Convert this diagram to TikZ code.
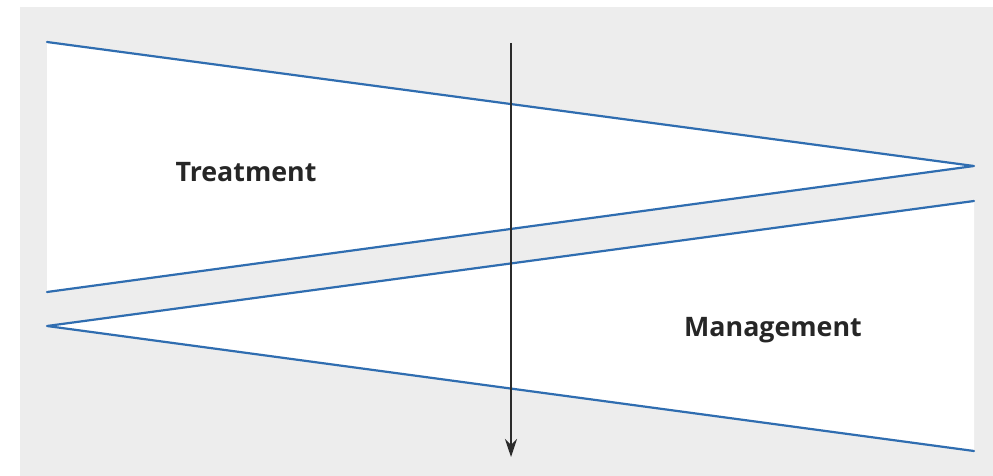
\documentclass[tikz,border=0pt]{standalone}
\usepackage{fontspec}
\setmainfont{Open Sans}
\usetikzlibrary{arrows.meta}
\definecolor{panel}{HTML}{EDEDED}
\definecolor{edge}{HTML}{2F6DB0}
\definecolor{axis}{HTML}{2B2B2B}
\begin{document}
\begin{tikzpicture}[x=1pt,y=-1pt,
  wedge/.style={fill=white,draw=none},
  border/.style={draw=edge,line width=2.2pt,line cap=round,line join=round},
  label/.style={font=\bfseries\fontsize{26.8pt}{31pt}\selectfont,text=black!85,inner sep=0pt}]
  \useasboundingbox (0,0) rectangle (993,476);
  \fill[white] (0,0) rectangle (993,476);
  \fill[panel] (20,7) rectangle (993,476);
  % treatment wedge
  \coordinate (t1) at (47,42);
  \coordinate (t2) at (974,166);
  \coordinate (t3) at (47,292);
  % management wedge
  \coordinate (m1) at (47,326);
  \coordinate (m2) at (974,201);
  \coordinate (m3) at (974,451);
  \fill[wedge] (t1) -- (t2) -- (t3) -- cycle;
  \fill[wedge] (m1) -- (m2) -- (m3) -- cycle;
  \draw[border] (t1) -- (t2) -- (t3);
  \draw[border] (m2) -- (m1) -- (m3);
  \node[label] (treat) at (246,172) {Treatment};
  \node[label] (manage) at (773,330) {Management};
  % time axis
  \coordinate (a0) at (511,43);
  \coordinate (a1) at (511,457);
  \draw[axis,line width=1.8pt,-{Stealth[length=18pt,width=12pt,inset=6pt]}] (a0) -- (a1);
\end{tikzpicture}
\end{document}
